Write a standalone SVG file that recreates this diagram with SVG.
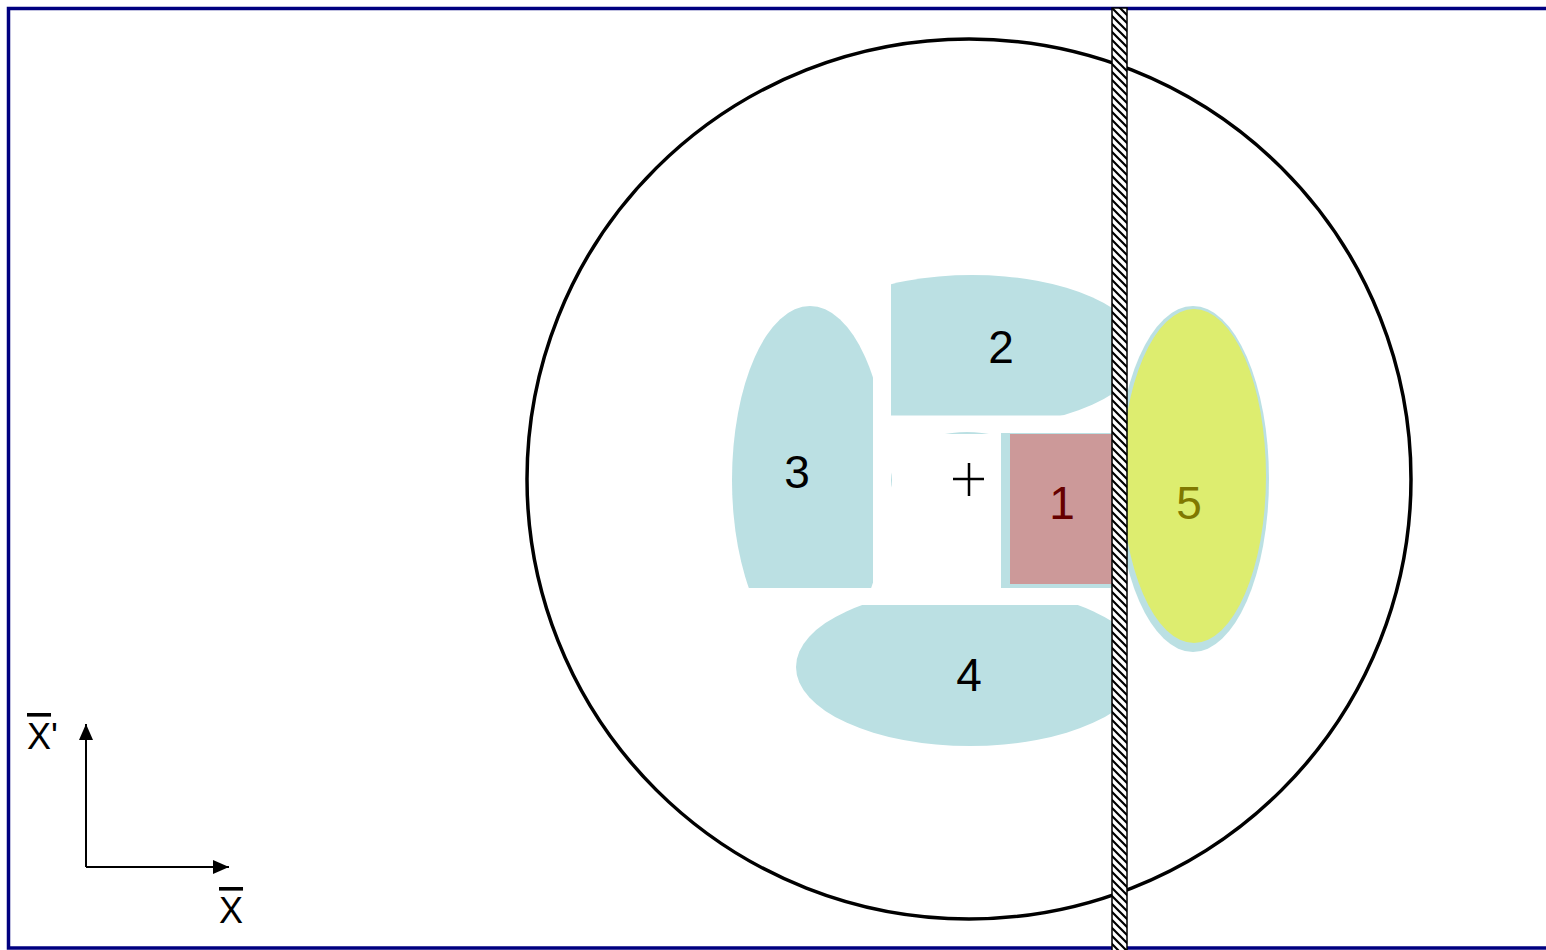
<svg xmlns="http://www.w3.org/2000/svg" width="1546" height="950" viewBox="0 0 1546 950">
<style>
.blob{fill:#BBE0E3;}
.lbl{font-family:"Liberation Sans",Arial,sans-serif;font-size:46px;text-anchor:middle;fill:#000;}
.axis{stroke:#000;stroke-width:2;fill:none;}
.ax{font-family:"Liberation Sans",Arial,sans-serif;font-size:36px;fill:#000;}
</style>
<defs>
<pattern id="hatch" patternUnits="userSpaceOnUse" width="8" height="8">
<rect width="8" height="8" fill="#fff"/>
<path d="M-1,-1 L9,9 M-1,7 L1,9 M7,-1 L9,1" stroke="#000" stroke-width="2.2"/>
</pattern>
<clipPath id="c2"><rect x="891" y="200" width="224" height="215.5"/></clipPath>
<clipPath id="c3"><rect x="700" y="250" width="173" height="338"/></clipPath>
<clipPath id="c4"><rect x="700" y="605" width="415" height="200"/></clipPath>
<marker id="arr" viewBox="0 0 16 14" refX="16" refY="7" markerWidth="16" markerHeight="14" markerUnits="userSpaceOnUse" orient="auto">
<path d="M0,0 L16,7 L0,14 Z" fill="#000"/>
</marker>
</defs>
<rect x="0" y="0" width="1546" height="950" fill="#fff"/>
<rect id="frame" x="8.5" y="8.5" width="1600" height="939.5" fill="none" stroke="#000080" stroke-width="3.5"/>
<g id="circle"><ellipse cx="969" cy="479" rx="442" ry="440" fill="none" stroke="#000" stroke-width="3.5"/></g>
<g id="center">
<ellipse class="blob" cx="967" cy="480" rx="76" ry="48"/>
<rect x="892" y="434" width="109" height="154" fill="#fff"/>
<path d="M953,479 H984 M969,463 V496" stroke="#000" stroke-width="2.5"/>
</g>
<g id="node2"><ellipse class="blob" cx="972" cy="351" rx="170" ry="76" clip-path="url(#c2)"/><text class="lbl" x="1001" y="363">2</text></g>
<g id="node3"><ellipse class="blob" cx="810" cy="480" rx="78" ry="174" clip-path="url(#c3)"/><text class="lbl" x="797" y="488">3</text></g>
<g id="node4"><ellipse class="blob" cx="970" cy="667" rx="174" ry="79" clip-path="url(#c4)"/><text class="lbl" x="969" y="691">4</text></g>
<g id="node1"><rect class="blob" x="1001" y="433" width="114" height="155"/><rect x="1010" y="434" width="105" height="150" fill="#CC9999"/><text class="lbl" x="1062" y="519" style="fill:#660000">1</text></g>
<g id="node5"><ellipse class="blob" cx="1193" cy="479" rx="76" ry="173"/><ellipse cx="1194" cy="476" rx="72" ry="167" fill="#DDED6F"/><text class="lbl" x="1189" y="519" style="fill:#807800">5</text></g>
<g id="bar"><rect x="1112" y="8" width="15" height="945" fill="url(#hatch)" stroke="#000" stroke-width="1.5"/></g>
<g id="connectors">
<path class="axis" d="M86,867 V724" marker-end="url(#arr)"/>
<path class="axis" d="M86,867 H229" marker-end="url(#arr)"/>
</g>
<g id="labels">
<text class="ax" x="27" y="749"><tspan text-decoration="overline">X</tspan>'</text>
<text class="ax" x="219" y="923"><tspan text-decoration="overline">X</tspan></text>
</g>
</svg>
